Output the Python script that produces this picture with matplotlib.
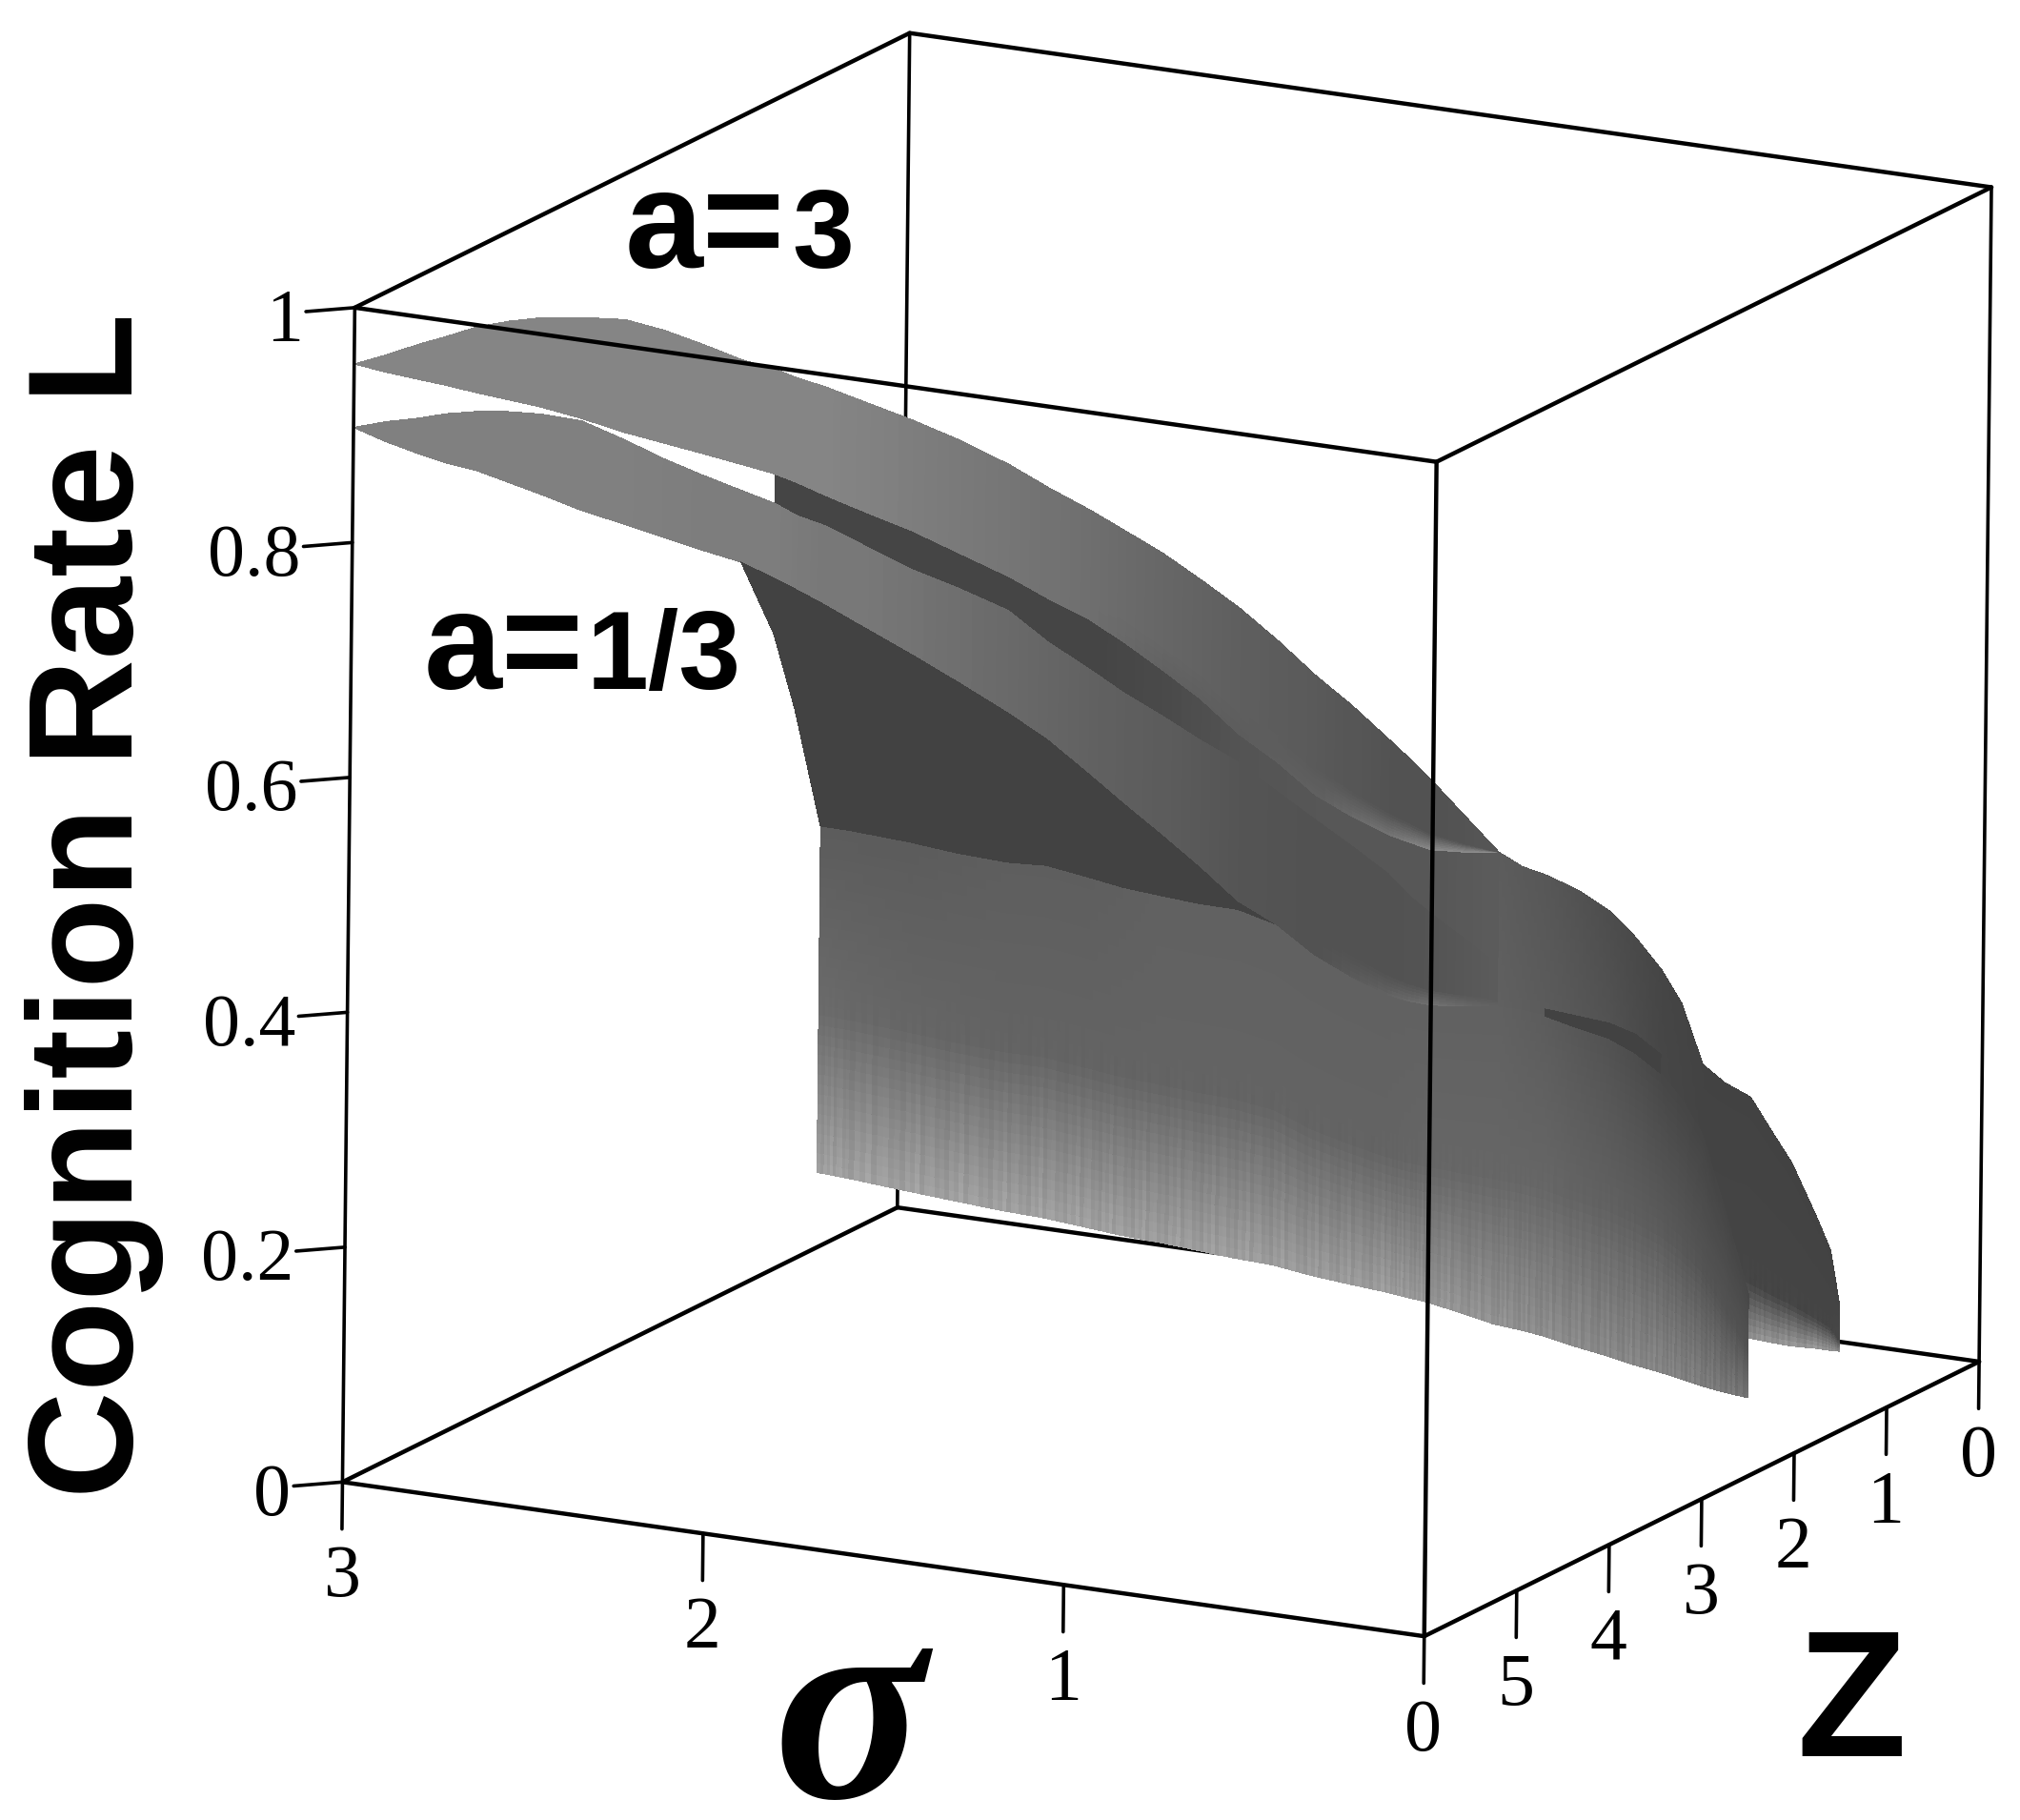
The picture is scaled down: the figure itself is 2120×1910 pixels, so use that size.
import numpy as np
import matplotlib
matplotlib.use('Agg')
import matplotlib.pyplot as plt
from mpl_toolkits.mplot3d import proj3d

# columns the surfaces are sampled on
sigma_cols = np.array([3.000, 2.935, 2.871, 2.814, 2.755, 2.690, 2.626, 2.543, 2.458, 2.380,
                       2.303, 2.220, 2.153, 2.109, 2.055, 1.993, 1.879, 1.781, 1.683, 1.603,
                       1.520, 1.448, 1.373, 1.295, 1.218, 1.140, 1.063, 0.991, 0.916, 0.874,
                       0.830, 0.763, 0.694, 0.647, 0.598, 0.533, 0.469, 0.417, 0.365, 0.324,
                       0.280, 0.236, 0.184, 0.145, 0.100, 0.047, 0.020, 0.001])
z_cols = np.array([6.000, 5.904, 5.807, 5.722, 5.633, 5.537, 5.440, 5.317, 5.189, 5.074,
                   4.958, 4.834, 4.734, 4.668, 4.587, 4.494, 4.324, 4.178, 4.031, 3.911,
                   3.788, 3.680, 3.568, 3.452, 3.336, 3.220, 3.105, 2.997, 2.885, 2.823,
                   2.757, 2.657, 2.553, 2.483, 2.410, 2.313, 2.217, 2.139, 2.062, 2.001,
                   1.935, 1.869, 1.791, 1.732, 1.666, 1.586, 1.547, 1.518])

# a=3 sheet, columns 0-32
a3_top = [.952, .959, .967, .973, .980, .984, .986, .985, .982, .972, .959, .944, .935, .927, .919, .908, .888,
          .869, .847, .826, .806, .787, .767, .743, .718, .689, .658, .632, .602, .585, .566, .535, .503]
a3_bot = [.952, .944, .937, .931, .924, .917, .910, .899, .886, .876, .866, .855, .846, .838, .827, .815, .794,
          .773, .752, .732, .713, .692, .668, .642, .611, .586, .557, .538, .521, .514, .507, .504, .503]
# a=1/3 sheet, columns 0-32
a13_top = [.898, .902, .904, .907, .908, .907, .904, .897, .880, .863, .848, .833, .821, .810, .801, .787, .761,
           .743, .723, .695, .671, .649, .629, .607, .587, .561, .536, .513, .488, .469, .453, .431, .407]
a13_bot = [.898, .885, .874, .865, .858, .847, .836, .821, .808, .796, .784, .772, .757, .747, .734, .718, .689,
           .663, .636, .612, .582, .555, .528, .499, .468, .447, .420, .401, .384, .378, .374, .372, .371]
# dark underside lower edge, columns 11-26
dark_bot = [.772, .710, .645, .544, .539, .528, .517, .508, .504, .493, .483, .475, .467, .461, .447, .420]
# front curtain, columns 14-42
curtain_top = [.544, .539, .528, .517, .508, .504, .493, .483, .475, .467, .461, .447, .420, .401, .384,
               .378, .374, .372, .371, .368, .362, .351, .341, .328, .310, .288, .257, .196, .119]
curtain_bot = [.250, .244, .232, .222, .212, .205, .196, .188, .181, .173, .165, .158, .148, .140, .132,
               .127, .122, .112, .101, .096, .090, .080, .071, .063, .056, .050, .043, .037, .031]
# back lump, columns 32-47
lump_top = [.503, .490, .482, .468, .449, .426, .398, .369, .316, .300, .287, .260, .230, .181, .154, .107]
lump_bot = [.296, .295, .294, .283, .260, .226, .182, .137, .093, .087, .082, .078, .074, .071, .069, .068]
# dark crease above the curtain, columns 34-38
crease_top = [.368, .361, .354, .344, .326]

sigma_ticks = [3, 2, 1, 0]
z_ticks = [5, 4, 3, 2, 1, 0]
l_ticks = [0, 0.2, 0.4, 0.6, 0.8, 1]
l_labels = ['0', '0.2', '0.4', '0.6', '0.8', '1']

# grey levels, given along shade_sigma
shade_sigma = np.array([3.000, 2.871, 2.755, 2.626, 2.458, 2.303, 2.220, 2.153, 2.109, 2.055,
                        1.993, 1.879, 1.683, 1.520, 1.373, 1.218, 1.063, 0.916, 0.830, 0.694,
                        0.598, 0.469, 0.365, 0.280, 0.184, 0.100, 0.047, 0.020, 0.001])
a3_g0 = [.52, .52, .52, .52, .52, .52, .52, .52, .52, .52, .51, .49, .46, .43, .40, .37, .35, .32, .32, .34]
a3_g2 = [.52, .52, .52, .52, .52, .52, .52, .52, .52, .52, .51, .49, .46, .43, .38, .36, .38, .47, .56, .60]
a13_g0 = [.50, .50, .50, .50, .50, .49, .49, .49, .48, .47, .47, .45, .41, .38, .36, .33, .32, .32, .33, .36]
a13_g2 = [.50, .50, .50, .50, .50, .49, .49, .49, .48, .47, .47, .45, .41, .38, .36, .33, .32, .40, .46, .38]
under_g = [.27, .27, .27, .27, .27, .27, .27, .29, .33, .34, .34, .34, .36]
curtain_g0 = [.36, .36, .36, .37, .37, .38, .38, .38, .38, .38, .38, .36, .32, .28, .27, .28]
curtain_g1 = [.42, .41, .40, .39, .39, .39, .39, .39, .39, .40, .40, .40, .38, .36, .33, .32]
curtain_g2 = [.64, .64, .64, .64, .64, .63, .63, .62, .62, .60, .58, .56, .54, .53, .50, .46]
lump_g0 = [.36, .34, .30, .27, .26, .26, .26, .26, .26, .26]
lump_g1 = [.38, .36, .33, .28, .27, .27, .27, .27, .27, .28]
lump_g2 = [.35, .35, .35, .35, .35, .60, .62, .62, .60, .58]
streak = [0, -.03, .015, -.01, .03, -.025, .01, .02, -.02]

plt.rcParams['font.family'] = 'Liberation Serif'

fig = plt.figure(figsize=(21.2, 19.1), dpi=100)
ax = fig.add_axes([.1446, .0607, .8434, .9361], projection='3d', proj_type='ortho')
ax.set_box_aspect((1, 1, 1), zoom=1.2)
ax.view_init(elev=15, azim=117, roll=-0.6)
ax.set_xlim(0, 3, view_margin=0)
ax.set_ylim(0, 6, view_margin=0)
ax.set_zlim(0, 1, view_margin=0)
ax.set_axis_off()
ax.computed_zorder = False


def sheet(first, top, bot, gfirst, g0, g1, g2, zo, knee=.5, fine=4, lines=False):
    n = len(top)
    idx = np.linspace(0, n - 1, (n - 1) * fine + 1)
    pos = np.arange(n)
    s = np.interp(idx, pos, sigma_cols[first:first + n])
    z = np.interp(idx, pos, z_cols[first:first + n])
    t = np.interp(idx, pos, top)
    b = np.interp(idx, pos, bot)
    rows = np.linspace(0, 1, 36)
    X = np.tile(s, (len(rows), 1))
    Y = np.tile(z, (len(rows), 1))
    L = np.outer(1 - rows, t) + np.outer(rows, b)
    # shading only, the gradient across the sheet
    anchor = -shade_sigma[gfirst:gfirst + len(g0)]
    a0 = np.interp(-s, anchor, g0)
    a1 = np.interp(-s, anchor, g1)
    a2 = np.interp(-s, anchor, g2)
    G = np.array([np.interp(rows, [0, knee, 1], [a0[i], a1[i], a2[i]]) for i in range(len(s))]).T
    if lines:
        ramp = np.clip((rows - knee + .1) / (1 - knee + .1), 0, 1)
        G = G + np.outer(ramp, [streak[i % len(streak)] for i in range(len(s))])
    G = np.clip(G, 0, 1)
    ax.plot_surface(X, Y, L, facecolors=np.dstack([G, G, G]), rstride=1, cstride=1,
                    shade=False, linewidth=0, antialiased=False, zorder=zo)


dark = [.26] * 29

sheet(32, lump_top, lump_bot, 19, lump_g0, lump_g1, lump_g2, 2, knee=.75, fine=8, lines=True)
sheet(12, a3_bot[12:], a13_top[12:], 7, under_g, under_g, under_g, 3)
sheet(0, a3_top, a3_bot, 0, a3_g0, a3_g0, a3_g2, 4, knee=.75)
sheet(0, a13_top, a13_bot, 0, a13_g0, a13_g0, a13_g2, 5, knee=.8)
sheet(11, a13_bot[11:27], dark_bot, 0, dark, dark, dark, 6)
sheet(14, curtain_top, curtain_bot, 9, curtain_g0, curtain_g1, curtain_g2, 7, knee=.52, fine=10, lines=True)
sheet(34, crease_top, curtain_top[20:25], 0, dark, dark, dark, 8)


def edge(p, q, zo, lw=3.2):
    ax.plot([p[0], q[0]], [p[1], q[1]], [p[2], q[2]], color='black', lw=lw, zorder=zo,
            solid_capstyle='round', clip_on=False)


def label(x, y, z, s, ha):
    # tick label placed through the same projection as the box
    px, py, _ = proj3d.proj_transform(x, y, z, ax.get_proj())
    ax.text2D(px, py, s, transform=ax.transData, fontsize=56, ha=ha, va='center', zorder=11)


# box, hidden edges first
edge((3, 0, 0), (0, 0, 0), 1)
edge((3, 0, 0), (3, 6, 0), 1)
edge((3, 0, 0), (3, 0, 1), 1, lw=2.6)
edge((3, 0, 1), (0, 0, 1), 10)
edge((3, 0, 1), (3, 6, 1), 10)
edge((0, 0, 1), (0, 6, 1), 10)
edge((0, 0, 0), (0, 0, 1), 10, lw=2.6)
edge((3, 6, 0), (3, 6, 1), 10, lw=2.6)
edge((0, 6, 0), (0, 6, 1), 10)
edge((3, 6, 1), (0, 6, 1), 10)
edge((3, 6, 0), (0, 6, 0), 10)
edge((0, 0, 0), (0, 6, 0), 10)

# ticks and tick labels
for v in sigma_ticks:
    edge((v, 6, 0), (v, 6, -.04), 10, lw=2.6)
    label(v, 6, -.082, str(v), 'center')
for v in z_ticks:
    edge((0, v, 0), (0, v, -.04), 10, lw=2.6)
    label(0, v, -.082, str(v), 'center')
for v, s in zip(l_ticks, l_labels):
    edge((3, 6, v), (3.088, 6.185, v), 10, lw=2.6)
    label(3.093, 6.195, v - .009, s, 'right')

# labels
fig.text(99 / 2120, 1 - 950 / 1910, 'Cognition Rate L', fontsize=112, family='Liberation Sans',
         weight='bold', rotation=90, ha='center', va='center')
fig.text(656 / 2120, 1 - 281 / 1910, 'a=', fontsize=106, family='Liberation Sans', weight='bold',
         ha='left', va='baseline')
fig.text(831 / 2120, 1 - 281 / 1910, '3', fontsize=84, family='Liberation Sans', weight='bold',
         ha='left', va='baseline')
fig.text(445 / 2120, 1 - 723 / 1910, 'a=', fontsize=106, family='Liberation Sans', weight='bold',
         ha='left', va='baseline')
fig.text(616 / 2120, 1 - 723 / 1910, '1/3', fontsize=84, family='Liberation Sans', weight='bold',
         ha='left', va='baseline')
fig.text(892 / 2120, 1 - 1814 / 1910, '\u03c3', fontsize=214, family='Liberation Serif',
         weight='bold', style='italic', ha='center', va='center')
fig.text(1885 / 2120, 1 - 1843 / 1910, 'Z', fontsize=136, family='Liberation Sans', weight='bold',
         ha='left', va='baseline')

fig.savefig('out.png', dpi=100)
